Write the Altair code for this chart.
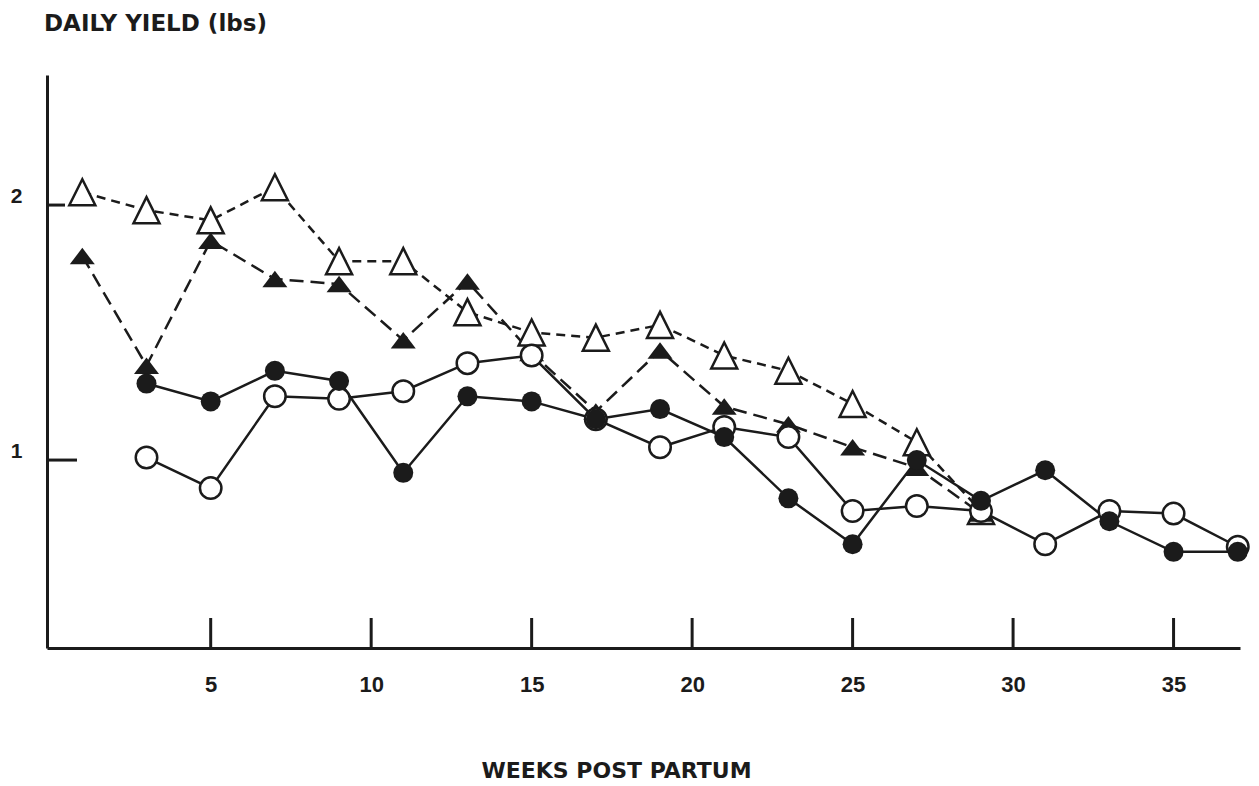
import altair as alt
import pandas as pd

# ---- data ----
weeks_triangles = [1, 3, 5, 7, 9, 11, 13, 15, 17, 19, 21, 23, 25, 27, 29]
weeks_circles = [3, 5, 7, 9, 11, 13, 15, 17, 19, 21, 23, 25, 27, 29, 31, 33, 35, 37]

open_triangle = [2.05, 1.98, 1.94, 2.07, 1.78, 1.78, 1.58, 1.50, 1.48, 1.53, 1.41, 1.35, 1.22, 1.07, 0.80]
filled_triangle = [1.80, 1.37, 1.86, 1.71, 1.69, 1.47, 1.70, 1.42, 1.19, 1.43, 1.21, 1.14, 1.05, 0.97, 0.79]
filled_circle = [1.30, 1.23, 1.35, 1.31, 0.95, 1.25, 1.23, 1.16, 1.20, 1.09, 0.85, 0.67, 1.00, 0.84, 0.96, 0.76, 0.64, 0.64]
open_circle = [1.01, 0.89, 1.25, 1.24, 1.27, 1.38, 1.41, 1.16, 1.05, 1.13, 1.09, 0.80, 0.82, 0.80, 0.67, 0.80, 0.79, 0.66]

x_tick_values = [5, 10, 15, 20, 25, 30, 35]
y_tick_values = [1, 2]

INK = "#1b1b1b"
W, H = 1193, 573

def frame(weeks, vals):
    return pd.DataFrame({"week": weeks, "yield": vals})

xs = alt.Scale(domain=[-0.1, 37.07], nice=False, zero=False)
ys = alt.Scale(domain=[0.263, 2.51], nice=False, zero=False)

X = alt.X("week:Q", scale=xs, axis=alt.Axis(
    values=x_tick_values, ticks=False, grid=False, domainColor=INK, domainWidth=3,
    labelFont="Liberation Sans", labelFontWeight="bold", labelFontSize=22, labelColor=INK,
    labelPadding=26, title="WEEKS POST PARTUM", titleFont="DejaVu Sans", titleFontSize=22,
    titleFontWeight="bold", titleColor=INK, titlePadding=65, titleX=569, titleAlign="center"))
Y = alt.Y("yield:Q", scale=ys, axis=alt.Axis(
    values=y_tick_values, ticks=False, grid=False, domainColor=INK, domainWidth=3,
    labelFont="Liberation Sans", labelFontWeight="bold", labelFontSize=21, labelColor=INK,
    labelPadding=25, labelOffset=-9, format="d", title=None))

ticks_df = pd.DataFrame({"week": x_tick_values})
yt_df = pd.DataFrame({"yield": y_tick_values})

x_ticks = alt.Chart(ticks_df).mark_rule(color=INK, strokeWidth=3).encode(
    x=X, y=alt.value(H), y2=alt.value(H - 30))
y_tick_2 = alt.Chart(yt_df).transform_filter("datum.yield == 2").mark_rule(color=INK, strokeWidth=3).encode(
    y=Y, x=alt.value(0), x2=alt.value(18))
y_tick_1 = alt.Chart(yt_df).transform_filter("datum.yield == 1").mark_rule(color=INK, strokeWidth=3).encode(
    y=Y, x=alt.value(0), x2=alt.value(30))

d_ot = frame(weeks_triangles, open_triangle)
d_ft = frame(weeks_triangles, filled_triangle)
d_fc = frame(weeks_circles, filled_circle)
d_oc = frame(weeks_circles, open_circle)

tall_tri = "M-1,1L1,1L0,-1Z"
flat_tri = "M-1,0.66L1,0.66L0,-0.66Z"

l_oc = alt.Chart(d_oc).mark_line(color=INK, strokeWidth=2.5).encode(x=X, y=Y)
l_fc = alt.Chart(d_fc).mark_line(color=INK, strokeWidth=2.5).encode(x=X, y=Y)
l_ot = alt.Chart(d_ot).mark_line(color=INK, strokeWidth=2.5, strokeDash=[9, 6]).encode(x=X, y=Y)
l_ft = alt.Chart(d_ft).mark_line(color=INK, strokeWidth=2.5, strokeDash=[14, 7]).encode(x=X, y=Y)

p_ot = alt.Chart(d_ot).mark_point(shape=tall_tri, size=676, filled=True, fill="white", stroke=INK,
                                  strokeWidth=2.5, opacity=1).encode(x=X, y=Y)
p_ft = alt.Chart(d_ft).mark_point(shape=flat_tri, size=625, filled=True, fill=INK, strokeWidth=0,
                                  opacity=1).encode(x=X, y=Y)
p_oc = alt.Chart(d_oc).mark_point(shape="circle", size=462, filled=True, fill="white", stroke=INK,
                                  strokeWidth=2.5, opacity=1).encode(x=X, y=Y)
p_fc = alt.Chart(d_fc).mark_point(shape="circle", size=400, filled=True, fill=INK, strokeWidth=0,
                                  opacity=1).encode(x=X, y=Y)

chart = alt.layer(
    l_oc, l_fc, l_ot, l_ft, x_ticks, y_tick_2, y_tick_1, p_ot, p_ft, p_oc, p_fc
).properties(
    width=W, height=H,
    title=alt.TitleParams("DAILY YIELD (lbs)", anchor="start", frame="group", font="DejaVu Sans",
                          fontSize=23, fontWeight="bold", color=INK, offset=21,
                          baseline="alphabetic", dx=-3),
    autosize=alt.AutoSizeParams(type="none"),
    padding={"left": 47, "top": 75, "right": 19, "bottom": 138},
    background="white",
).configure_view(stroke=None)

chart.save("out.html", embed_options={"renderer": "svg", "actions": False})
